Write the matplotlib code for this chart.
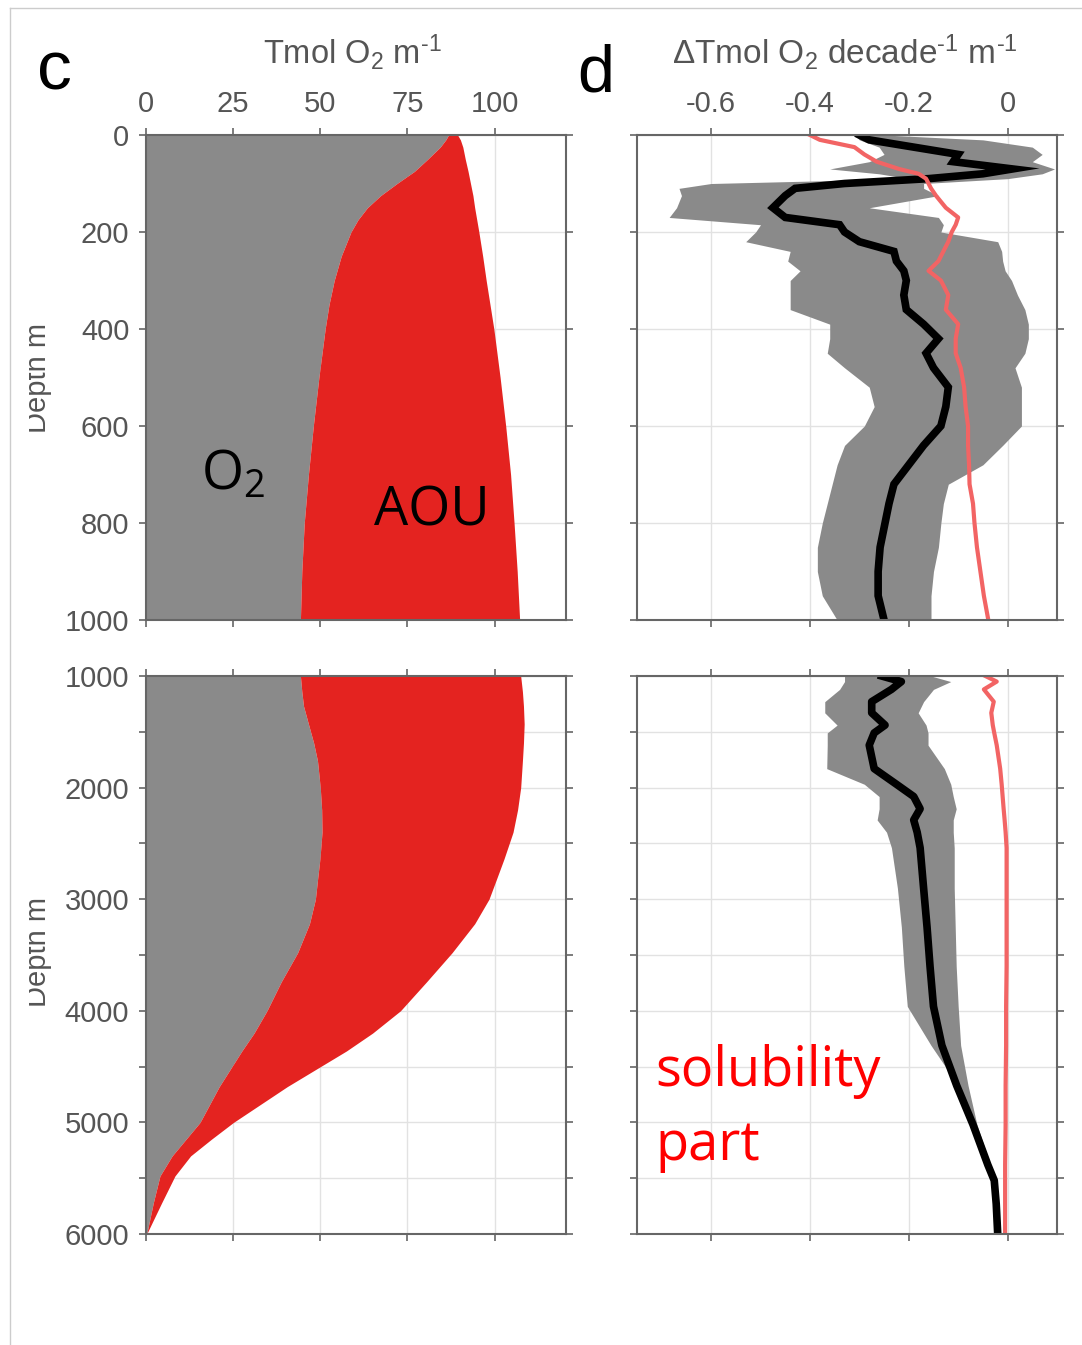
import matplotlib.pyplot as plt
from matplotlib.transforms import Bbox, TransformedBbox
from matplotlib.lines import Line2D

plt.rcParams['font.family'] = ['Liberation Sans', 'DejaVu Sans']
plt.rcParams['mathtext.fontset'] = 'custom'
plt.rcParams['mathtext.rm'] = 'Liberation Sans'
plt.rcParams['mathtext.default'] = 'regular'

# panel c, 0-1000 m : O2 inventory and O2 + AOU (Tmol O2 per m)
depth_c_top = [0, 10, 25, 50, 75, 100, 125, 150, 175, 200, 250, 300, 350, 400, 500, 600, 700, 800, 900, 1000]
o2_c_top = [86.8, 86.0, 84.4, 80.8, 77.0, 72.0, 67.3, 63.5, 60.8, 58.8, 56.0, 54.0, 52.5, 51.4, 49.6, 48.0,
            46.6, 45.4, 44.7, 44.3]
total_c_top = [89.4, 90.2, 90.9, 91.6, 92.4, 93.1, 93.8, 94.3, 94.9, 95.5, 96.6, 97.6, 98.7, 99.8, 101.6,
               103.2, 104.6, 105.6, 106.5, 107.2]

# panel c, 1000-6000 m
depth_c_bot = [1000, 1140, 1270, 1430, 1600, 1760, 2000, 2200, 2400, 2640, 2800, 3000, 3220, 3480,
               3740, 4000, 4200, 4360, 4680, 5000, 5150, 5300, 5480, 5720, 6000]
o2_c_bot = [44.3, 44.7, 45.2, 46.6, 48.1, 49.2, 50.0, 50.4, 50.5, 49.9, 49.3, 48.6, 46.9, 43.5,
            38.8, 34.7, 31.0, 27.5, 21.0, 15.5, 11.5, 7.5, 4.0, 2.1, 0.2]
total_c_bot = [107.5, 108.0, 108.3, 108.5, 108.3, 108.0, 107.5, 106.6, 105.3, 102.7, 100.8, 98.4, 94.3,
               87.8, 80.5, 73.0, 65.0, 57.5, 40.5, 25.1, 18.8, 12.8, 8.3, 4.5, 0.2]

# panel d, 0-1000 m : trend (black), solubility part (red), uncertainty band (grey)
depth_d_top = [0, 10, 25, 40, 55, 70, 80, 90, 100, 110, 125, 150, 170, 185, 200, 220, 240, 260, 280,
               300, 330, 360, 390, 420, 450, 480, 520, 560, 600, 640, 680, 720, 760, 800, 850, 900, 950, 1000]
trend_d_top = [-0.30, -0.28, -0.19, -0.10, -0.11, 0.01, -0.05, -0.16, -0.33, -0.43, -0.45, -0.475, -0.45,
               -0.34, -0.33, -0.30, -0.23, -0.225, -0.21, -0.205, -0.21, -0.205, -0.17, -0.14, -0.165,
               -0.15, -0.12, -0.125, -0.135, -0.17, -0.20, -0.23, -0.24, -0.248, -0.258, -0.262, -0.262, -0.25]
sol_d_top = [-0.40, -0.38, -0.31, -0.29, -0.265, -0.22, -0.18, -0.165, -0.16, -0.155, -0.145, -0.125, -0.10,
             -0.105, -0.113, -0.12, -0.13, -0.14, -0.16, -0.135, -0.12, -0.125, -0.10, -0.105, -0.105,
             -0.095, -0.088, -0.085, -0.08, -0.08, -0.078, -0.077, -0.07, -0.067, -0.062, -0.055, -0.048, -0.039]
lo_d_top = [-0.31, -0.30, -0.26, -0.25, -0.28, -0.36, -0.26, -0.20, -0.60, -0.665, -0.66, -0.67, -0.685,
            -0.50, -0.51, -0.53, -0.44, -0.445, -0.42, -0.44, -0.44, -0.44, -0.36, -0.36, -0.365,
            -0.33, -0.28, -0.27, -0.29, -0.33, -0.345, -0.355, -0.365, -0.375, -0.385, -0.385, -0.375, -0.345]
hi_d_top = [-0.25, -0.05, 0.05, 0.07, 0.05, 0.095, 0.07, 0.0, -0.17, -0.17, -0.14, -0.28, -0.14,
            -0.13, -0.135, -0.02, -0.012, -0.01, -0.005, 0.008, 0.02, 0.035, 0.042, 0.042, 0.035,
            0.015, 0.028, 0.028, 0.028, -0.01, -0.05, -0.12, -0.13, -0.135, -0.14, -0.15, -0.155, -0.155]

# panel d, 1000-6000 m
depth_d_bot = [1000, 1050, 1120, 1230, 1330, 1440, 1510, 1620, 1830, 1970, 2080, 2190, 2290,
               2400, 2540, 2900, 3250, 3600, 3960, 4310, 4670, 5020, 5380, 5520, 5730, 6000]
trend_d_bot = [-0.255, -0.215, -0.235, -0.275, -0.275, -0.248, -0.27, -0.28, -0.27, -0.225, -0.19, -0.177,
               -0.19, -0.183, -0.177, -0.17, -0.163, -0.157, -0.15, -0.133, -0.103, -0.07, -0.04, -0.027,
               -0.023, -0.02]
sol_d_bot = [-0.045, -0.022, -0.048, -0.028, -0.033, -0.03, -0.027, -0.022, -0.015, -0.012, -0.01, -0.008,
             -0.006, -0.004, -0.002, -0.002, -0.002, -0.002, -0.003, -0.003, -0.004, -0.004, -0.005, -0.005,
             -0.005, -0.005]
lo_d_bot = [-0.33, -0.33, -0.34, -0.37, -0.37, -0.345, -0.365, -0.365, -0.366, -0.29, -0.26, -0.26, -0.264,
            -0.245, -0.235, -0.223, -0.215, -0.21, -0.203, -0.155, -0.10, -0.067, -0.04, -0.03, -0.025, -0.02]
hi_d_bot = [-0.155, -0.115, -0.15, -0.17, -0.181, -0.165, -0.161, -0.161, -0.128, -0.115, -0.11, -0.104,
            -0.11, -0.11, -0.108, -0.108, -0.106, -0.104, -0.10, -0.095, -0.08, -0.062, -0.035, -0.027,
            -0.023, -0.02]

c_ticks = [0, 25, 50, 75, 100]
d_ticks = [-0.6, -0.4, -0.2, 0]
d_ticklabels = ['-0.6', '-0.4', '-0.2', '0']
top_yticks = [0, 200, 400, 600, 800, 1000]
bot_yticks = [1000, 1500, 2000, 2500, 3000, 3500, 4000, 4500, 5000, 5500, 6000]
bot_ylabels = ['1000', '', '2000', '', '3000', '', '4000', '', '5000', '', '6000']

grey = '#8a8a8a'
red = '#e42320'
soft_red = '#f26464'
label_grey = '#555555'

W, H = 1082.0, 1345.0
fig = plt.figure(figsize=(W / 100, H / 100), dpi=100)


def box(l, t, r, b):
    return [l / W, 1 - b / H, (r - l) / W, (b - t) / H]


def style(ax, xlim, xticks, ylim, yticks, ylabels, labeltop, labelleft):
    ax.set_xlim(xlim)
    ax.set_ylim(ylim)
    ax.set_xticks(xticks)
    ax.set_yticks(yticks)
    if labelleft:
        ax.set_yticklabels(ylabels)
    ax.grid(True, color='#e2e2e2', lw=1)
    ax.set_axisbelow(True)
    ax.tick_params(direction='out', length=5, width=1.2, color='#666666', labelcolor=label_grey,
                   labelsize=21, pad=7, top=True, right=True, bottom=True, left=True,
                   labeltop=labeltop, labelbottom=False, labelleft=labelleft)
    for s in ax.spines.values():
        s.set_color('#666666')
        s.set_linewidth(1.5)


ax_c1 = fig.add_axes(box(146, 135, 566, 620))
ax_c2 = fig.add_axes(box(146, 676, 566, 1234))
ax_d1 = fig.add_axes(box(637, 135, 1057, 620))
ax_d2 = fig.add_axes(box(637, 676, 1057, 1234))

# panel c
ax_c1.fill_betweenx(depth_c_top, 0, o2_c_top, color=grey, lw=0)
ax_c1.fill_betweenx(depth_c_top, o2_c_top, total_c_top, color=red, lw=0)
ax_c2.fill_betweenx(depth_c_bot, 0, o2_c_bot, color=grey, lw=0)
ax_c2.fill_betweenx(depth_c_bot, o2_c_bot, total_c_bot, color=red, lw=0)
style(ax_c1, (0, 120.5), c_ticks, (1000, 0), top_yticks, [str(t) for t in top_yticks], True, True)
style(ax_c2, (0, 120.5), c_ticks, (6000, 1000), bot_yticks, bot_ylabels, False, True)

# panel d
ax_d1.fill_betweenx(depth_d_top, lo_d_top, hi_d_top, color=grey, lw=0)
ax_d1.plot(trend_d_top, depth_d_top, color='black', lw=5.5, solid_joinstyle='miter')
ax_d1.plot(sol_d_top, depth_d_top, color=soft_red, lw=3)
ax_d2.fill_betweenx(depth_d_bot, lo_d_bot, hi_d_bot, color=grey, lw=0)
ax_d2.plot(trend_d_bot, depth_d_bot, color='black', lw=5.5)
ax_d2.plot(sol_d_bot, depth_d_bot, color=soft_red, lw=3)
style(ax_d1, (-0.75, 0.1), d_ticks, (1000, 0), top_yticks, None, True, False)
ax_d1.set_xticklabels(d_ticklabels)
style(ax_d2, (-0.75, 0.1), d_ticks, (6000, 1000), bot_yticks, None, False, False)

# axis titles and panel letters
fig.text(352 / W, 1 - 64 / H, r'Tmol O$_2$ m$^{\text{-1}}$', fontsize=23.5, color=label_grey,
         ha='center', va='baseline')
fig.text(845 / W, 1 - 64 / H, r'$\Delta$Tmol O$_2$ decade$^{\text{-1}}$ m$^{\text{-1}}$', fontsize=24,
         color=label_grey, ha='center', va='baseline')
fig.text(54 / W, 1 - 90 / H, 'c', fontsize=50, ha='center', va='baseline')
fig.text(596 / W, 1 - 91 / H, 'd', fontsize=48, ha='center', va='baseline')

# the depth labels are cut at the left edge in the original
clip = TransformedBbox(Bbox.from_extents(29 / W, 0, 1, 1), fig.transFigure)
for yc in [378, 952]:
    t = fig.text(46 / W, 1 - yc / H, 'Depth m', fontsize=21, color=label_grey, rotation=90,
                 rotation_mode='anchor', ha='center', va='baseline')
    t.set_clip_box(clip)
    t.set_clip_on(True)

# overlay annotations
fig.text(233 / W, 1 - 475 / H, 'O$_2$', fontsize=39, family='Open Sans', ha='center', va='center')
fig.text(432 / W, 1 - 511 / H, 'AOU', fontsize=39, family='Open Sans', ha='center', va='center')
fig.text(655 / W, 1 - 1086 / H, 'solubility', fontsize=39, family='Open Sans', color='red', va='baseline')
fig.text(655 / W, 1 - 1160 / H, 'part', fontsize=39, family='Open Sans', color='red', va='baseline')

# thin frame of the original picture
fig.add_artist(Line2D([10 / W, 1], [1 - 8 / H, 1 - 8 / H], transform=fig.transFigure, color='#cccccc', lw=1))
fig.add_artist(Line2D([10 / W, 10 / W], [0, 1 - 8 / H], transform=fig.transFigure, color='#cccccc', lw=1))

fig.savefig('out.png', dpi=100)
